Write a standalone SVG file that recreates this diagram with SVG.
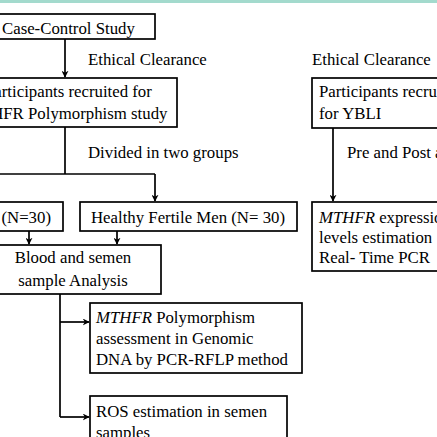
<svg xmlns="http://www.w3.org/2000/svg" width="437" height="437" viewBox="0 0 437 437">
<style>
.box{fill:#fff;stroke:#000;stroke-width:1.7}
.t{font-family:"Liberation Serif","Times New Roman",serif;font-size:16.8px;fill:#000}
.c{fill:none;stroke:#000;stroke-width:1.7}
</style>
<defs>
<marker id="ah" viewBox="0 0 10 10" refX="9" refY="5" markerWidth="7" markerHeight="7" orient="auto" markerUnits="userSpaceOnUse">
<path d="M0,0 L10,5 L0,10 L3,5 Z" fill="#000"/>
</marker>
</defs>
<rect width="437" height="437" fill="#fff"/>
<rect x="0" y="0" width="437" height="3" fill="#a3dacd"/>
<g id="connectors">
<line class="c" x1="65" y1="39" x2="65" y2="77" marker-end="url(#ah)"/>
<line class="c" x1="65" y1="127" x2="65" y2="174"/>
<line class="c" x1="-5" y1="174" x2="155" y2="174"/>
<line class="c" x1="155" y1="174" x2="155" y2="201" marker-end="url(#ah)"/>
<line class="c" x1="29" y1="231" x2="29" y2="244" marker-end="url(#ah)"/>
<line class="c" x1="117" y1="231" x2="117" y2="244" marker-end="url(#ah)"/>
<line class="c" x1="60" y1="294" x2="60" y2="417"/>
<line class="c" x1="60" y1="322" x2="89" y2="322" marker-end="url(#ah)"/>
<line class="c" x1="60" y1="417" x2="89" y2="417" marker-end="url(#ah)"/>
<line class="c" x1="333" y1="128" x2="333" y2="201" marker-end="url(#ah)"/>
<text class="t" x="88" y="65">Ethical Clearance</text>
<text class="t" x="88" y="158">Divided in two groups</text>
<text class="t" x="312" y="65">Ethical Clearance</text>
<text class="t" x="347" y="158">Pre and Post a</text>
</g>
<g id="case-control">
<rect class="box" x="-20" y="14" width="175" height="25"/>
<text class="t" x="2" y="34">Case-Control Study</text>
</g>
<g id="participants-mthfr">
<rect class="box" x="-20" y="78" width="197" height="49"/>
<text class="t" x="-15" y="97">Participants recruited for</text>
<text class="t" x="-34" y="119">MTHFR Polymorphism study</text>
</g>
<g id="infertile">
<rect class="box" x="-20" y="202" width="83" height="29"/>
<text class="t" x="51" y="223" text-anchor="end">(N=30)</text>
</g>
<g id="healthy">
<rect class="box" x="80" y="202" width="217" height="29"/>
<text class="t" x="91" y="223">Healthy Fertile Men (N= 30)</text>
</g>
<g id="blood">
<rect class="box" x="-20" y="245" width="181" height="49"/>
<text class="t" x="73" y="263" text-anchor="middle">Blood and semen</text>
<text class="t" x="73" y="286" text-anchor="middle">sample Analysis</text>
</g>
<g id="polymorphism">
<rect class="box" x="90" y="303" width="212" height="70"/>
<text class="t" x="96" y="323"><tspan font-style="italic">MTHFR</tspan> Polymorphism</text>
<text class="t" x="96" y="344">assessment in Genomic</text>
<text class="t" x="96" y="365">DNA by PCR-RFLP method</text>
</g>
<g id="ros">
<rect class="box" x="90" y="396" width="197" height="60"/>
<text class="t" x="96" y="417">ROS estimation in semen</text>
<text class="t" x="96" y="438">samples</text>
</g>
<g id="participants-ybli">
<rect class="box" x="312" y="78" width="140" height="50"/>
<text class="t" x="319" y="97">Participants recruited</text>
<text class="t" x="319" y="119">for YBLI</text>
</g>
<g id="expression">
<rect class="box" x="312" y="202" width="140" height="69"/>
<text class="t" x="319" y="223"><tspan font-style="italic">MTHFR</tspan> expression</text>
<text class="t" x="319" y="243">levels estimation</text>
<text class="t" x="319" y="263">Real- Time PCR</text>
</g>
</svg>
